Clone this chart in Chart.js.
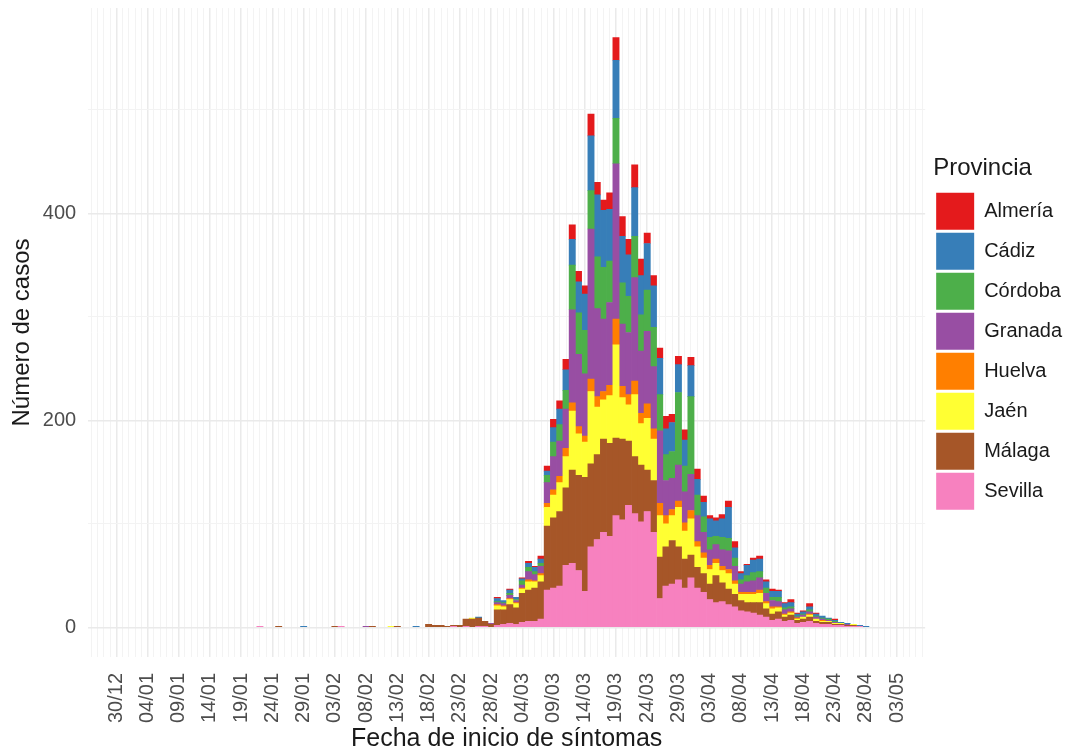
<!DOCTYPE html>
<html lang="es">
<head>
<meta charset="utf-8">
<title>Casos por fecha de inicio de síntomas</title>
<script src="https://cdn.jsdelivr.net/npm/chart.js@4.4.1/dist/chart.umd.min.js"></script>
<style>
  html, body { margin: 0; padding: 0; background: #fff; }
  #grafico { display: block; }
</style>
</head>
<body>
<canvas id="grafico" width="1074" height="754"></canvas>
<script>
// eje x: un día por categoría, del 26/12/2019 al 07/05/2020
var primerDiaEje = new Date(2019, 11, 26);
var numDiasEje = 134;
var inicioDatos = '22/01';   // primer día de las series

var etiquetasEje = ['30/12','04/01','09/01','14/01','19/01','24/01','29/01','03/02','08/02','13/02',
  '18/02','23/02','28/02','04/03','09/03','14/03','19/03','24/03','29/03','03/04',
  '08/04','13/04','18/04','23/04','28/04','03/05'];
var marcasY = [0, 100, 200, 300, 400, 500];
var etiquetasY = [0, 200, 400];

// casos diarios por provincia, desde el 22/01
var sevilla = [1,0,0,0,0,0,0,0,0,0, 0,0,0,1,0,0,0,0,0,0, 0,0,0,0,0,0,0,
  0,0,0,0,1,0,1,0,1,1,0,
  2,3,4,3,5,6,6,8,36,38, 40,60,62,55,35,78,85,92,88,108,
  104,118,110,102,112,92,28,40,42,46, 38,48,38,34,27,24,25,22,20,16,
  15,14,12,10,7,8,6,7,4,5, 6,4,3,3,2,2,1,1,1,0];
var malaga = [0,0,0,1,0,0,0,0,0,0, 0,0,1,0,0,0,0,0,1,0, 0,0,1,0,0,0,0,
  3,2,2,1,1,2,7,8,8,5,3,
  15,14,18,16,28,30,32,36,62,68, 72,75,90,92,110,80,82,90,90,75,
  78,62,55,55,40,50,40,38,42,32, 28,22,20,18,15,26,18,15,12,10,
  9,10,12,8,6,7,4,5,3,3, 4,2,2,2,1,1,1,1,0,0];
var jaen = [0,0,0,0,0,0,0,0,0,0, 0,0,0,0,0,0,0,0,0,0, 0,1,0,0,0,0,0,
  0,0,0,0,0,0,0,1,0,0,0,
  4,3,5,4,4,8,6,6,18,22, 28,30,57,40,34,70,46,38,46,90,
  40,35,60,40,50,40,40,22,24,38, 27,35,20,15,14,12,12,15,10,6,
  8,8,9,5,5,4,2,2,1,2, 2,2,1,1,1,1,0,1,0,0];
var huelva = [0,0,0,0,0,0,0,0,0,0, 0,0,0,0,0,0,0,0,0,0, 0,0,0,0,0,0,0,
  0,0,0,0,0,0,0,0,0,0,0,
  1,1,1,1,1,2,1,2,4,5, 6,8,8,7,6,12,10,8,10,25,
  11,10,13,10,14,10,12,8,6,6, 8,8,5,5,4,4,4,4,3,2,
  2,2,3,2,2,1,1,1,1,0, 1,0,1,0,0,0,0,0,0,0];
var granada = [0,0,0,0,0,0,0,0,0,0, 0,0,0,0,0,0,0,1,0,0, 0,0,0,0,0,0,0,
  0,0,0,0,0,0,0,0,0,0,1,
  2,2,3,2,3,8,6,7,20,32, 34,38,90,70,60,145,85,70,80,150,
  60,60,100,60,70,60,70,34,30,35, 30,35,25,20,15,14,16,18,14,8,
  10,11,12,8,6,5,4,3,1,2, 2,2,1,1,1,0,1,0,0,0];
var cordoba = [0,0,0,0,0,0,0,0,0,0, 0,0,0,0,0,0,0,0,0,0, 0,0,0,0,0,0,0,
  0,0,0,0,0,0,0,0,0,0,0,
  1,1,2,1,4,4,3,3,7,14, 16,18,43,40,42,37,50,50,40,44,
  40,35,40,35,40,38,35,25,26,70, 25,75,20,15,12,8,12,12,8,4,
  6,8,6,5,3,4,2,2,1,1, 2,1,1,1,1,0,0,0,0,0];
var cadiz = [0,0,0,0,0,0,0,1,0,0, 0,0,0,0,0,0,0,0,0,0, 0,0,0,0,0,1,0,
  0,0,0,0,0,0,0,0,1,0,0,
  3,2,3,2,2,4,4,4,4,14, 15,20,25,30,35,53,60,55,50,56,
  45,40,47,38,45,40,35,25,28,27, 25,30,15,14,18,15,18,30,10,6,
  10,12,12,6,6,6,4,4,2,2, 3,2,2,1,1,1,1,0,1,1];
var almeria = [0,0,0,0,0,0,0,0,0,0, 0,0,0,0,0,0,0,0,0,0, 0,0,0,0,0,0,0,
  0,0,0,0,0,0,0,0,0,0,0,
  1,0,1,0,1,2,1,3,5,8, 8,10,14,10,8,21,12,10,16,22,
  19,15,22,16,10,10,10,12,8,8, 10,8,10,6,3,3,4,6,6,2,
  1,2,3,2,2,1,1,3,1,1, 3,1,0,0,1,0,0,0,0,0];

// de abajo arriba en la pila
var provincias = ['Sevilla', 'Málaga', 'Jaén', 'Huelva', 'Granada', 'Córdoba', 'Cádiz', 'Almería'];
var series = [sevilla, malaga, jaen, huelva, granada, cordoba, cadiz, almeria];
var colores = ['#F781BF', '#A65628', '#FFFF33', '#FF7F00', '#984EA3', '#4DAF4A', '#377EB8', '#E41A1C'];

function dosCifras(n) { return (n < 10 ? '0' : '') + n; }

var dias = [];
for (var i = 0; i < numDiasEje; i++) {
  var f = new Date(primerDiaEje.getFullYear(), primerDiaEje.getMonth(), primerDiaEje.getDate() + i);
  dias.push(dosCifras(f.getDate()) + '/' + dosCifras(f.getMonth() + 1));
}
var desplaz = dias.indexOf(inicioDatos);

var datasets = provincias.map(function(nombre, k) {
  var puntos = series[k].map(function(v, i) {
    return { x: dias[desplaz + i], y: v };
  }).filter(function(p) { return p.y > 0; });
  return {
    label: nombre,
    data: puntos,
    backgroundColor: colores[k],
    borderWidth: 0,
    barPercentage: 1,
    categoryPercentage: 1,
    yAxisID: 'y'
  };
});

var grisMayor = '#EAEAEA';
var grisMenor = '#F3F3F3';

Chart.defaults.font.family = "'Liberation Sans', Arial, sans-serif";

new Chart(document.getElementById('grafico').getContext('2d'), {
  type: 'bar',
  data: { labels: dias, datasets: datasets },
  options: {
    responsive: false,
    animation: false,
    devicePixelRatio: 1,
    layout: { padding: { top: 8, right: 2, left: 0, bottom: 0 } },
    plugins: {
      tooltip: { enabled: false },
      legend: {
        position: 'right',
        reverse: true,
        align: 'start',
        title: {
          display: true,
          text: 'Provincia',
          position: 'start',
          color: '#1a1a1a',
          font: { size: 24 },
          padding: { top: 148, bottom: 5 }
        },
        labels: {
          boxWidth: 38,
          boxHeight: 37,
          padding: 3,
          color: '#1a1a1a',
          font: { size: 20 }
        }
      }
    },
    scales: {
      x: {
        stacked: true,
        offset: true,
        border: { display: false },
        grid: {
          offset: false,
          drawTicks: false,
          color: function(ctx) {
            return ctx.tick && ctx.tick.label ? grisMayor : grisMenor;
          },
          lineWidth: function(ctx) {
            return ctx.tick && ctx.tick.label ? 1.5 : 1;
          }
        },
        ticks: {
          autoSkip: false,
          minRotation: 90,
          maxRotation: 90,
          padding: 16,
          color: '#4d4d4d',
          font: { size: 20 },
          callback: function(value) {
            var lab = this.getLabelForValue(value);
            return etiquetasEje.indexOf(lab) >= 0 ? lab : '';
          }
        },
        title: {
          display: true,
          text: 'Fecha de inicio de síntomas',
          color: '#1a1a1a',
          font: { size: 25 },
          padding: { top: -15, bottom: 0 }
        }
      },
      y: {
        stacked: true,
        min: -28.5,
        max: 598.5,
        border: { display: false },
        afterBuildTicks: function(scale) {
          scale.ticks = marcasY.map(function(v) { return { value: v }; });
        },
        afterFit: function(scale) {
          scale.paddingTop = 0;
          scale.paddingBottom = 0;
        },
        grid: {
          drawTicks: false,
          color: function(ctx) {
            return ctx.tick && etiquetasY.indexOf(ctx.tick.value) >= 0 ? grisMayor : grisMenor;
          },
          lineWidth: function(ctx) {
            return ctx.tick && etiquetasY.indexOf(ctx.tick.value) >= 0 ? 1.5 : 1;
          }
        },
        ticks: {
          padding: 12,
          color: '#4d4d4d',
          font: { size: 20 },
          callback: function(v) { return etiquetasY.indexOf(v) >= 0 ? String(v) : ''; }
        },
        title: {
          display: true,
          text: 'Número de casos',
          color: '#1a1a1a',
          font: { size: 24 },
          padding: { top: 8, bottom: -6 }
        }
      },
      // hueco entre el panel y la leyenda
      yDer: {
        position: 'right',
        display: true,
        border: { display: false },
        grid: { display: false },
        ticks: { display: false },
        afterFit: function(scale) { scale.width = 8; }
      }
    }
  }
});
</script>
</body>
</html>
